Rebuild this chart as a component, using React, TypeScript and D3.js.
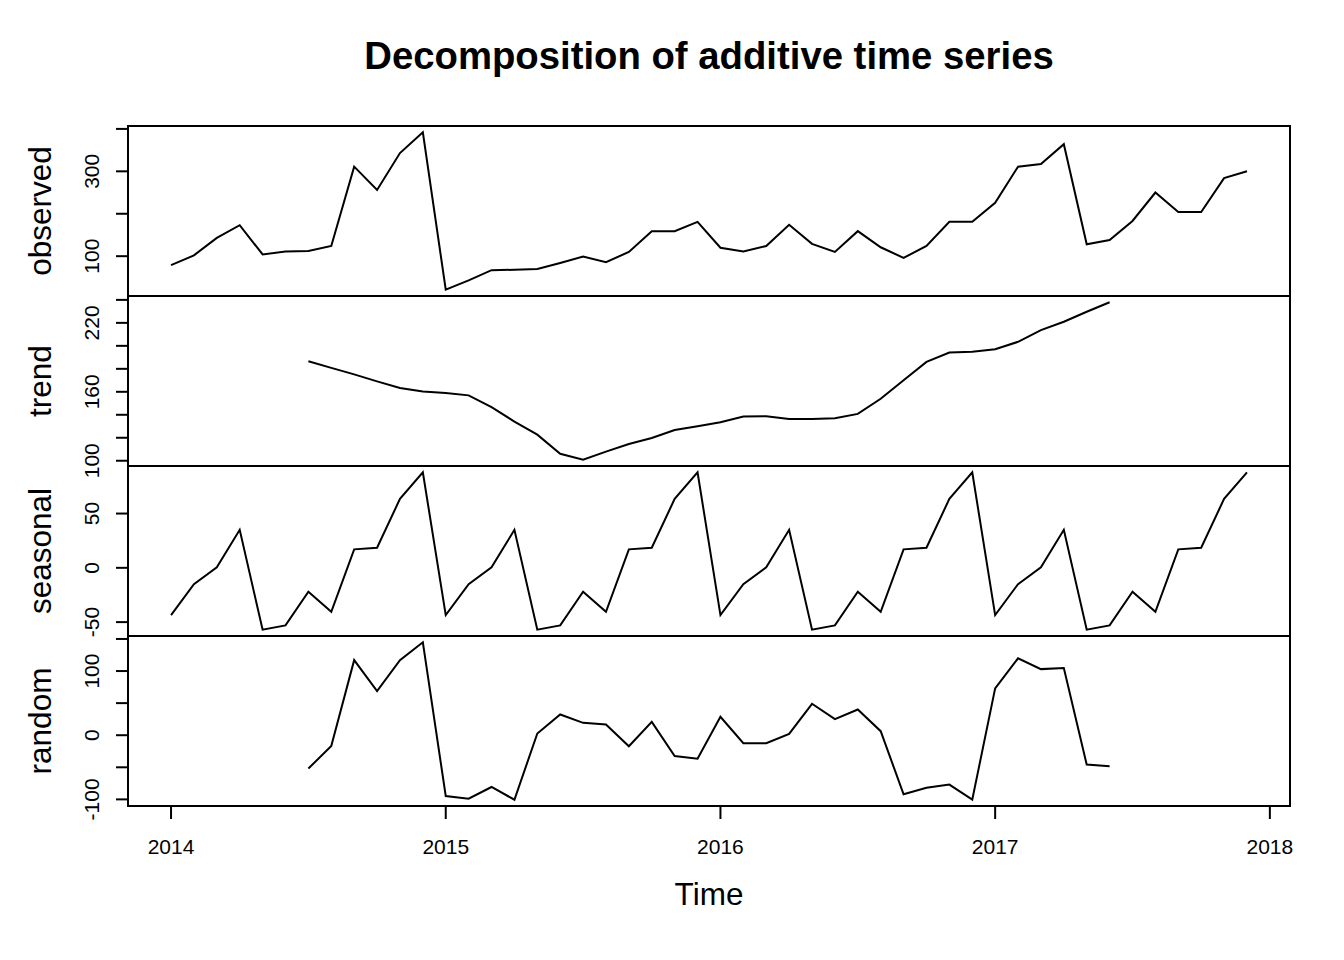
import React from "react";
import * as d3 from "d3";

// ---- data (monthly, Jan 2014 .. Dec 2017) ----
const START_YEAR = 2014;
const FREQ = 12;

const observed = [
  79, 102, 143, 173, 104, 111, 112, 124, 311, 256, 343, 392,
  21, 43, 67, 68, 70, 84, 99, 86, 110, 159, 159, 181,
  120, 111, 124, 174, 129, 110, 159, 121, 96, 124, 181, 181,
  226, 311, 317, 364, 128, 138, 183, 250, 204, 204, 284, 300,
];

// trend and random are defined from Jul 2014 (index 6) to Jun 2017 (index 41)
const TREND_OFFSET = 6;
const trend = [
  186.6, 180.8, 175.2, 169.1, 163.3, 160.3, 158.9, 156.9, 146.6, 134.1, 122.7, 106.1,
  100.9, 107.9, 114.6, 119.8, 126.8, 130.0, 133.5, 138.5, 138.8, 136.4, 136.4, 137.0,
  140.8, 153.9, 170.0, 186.0, 194.2, 194.8, 197.0, 203.5, 213.7, 221.0, 229.7, 237.9,
];

const seasonalFigure = [-43.5, -15, 0.5, 35, -57, -53, -22, -40.5, 17, 18.5, 63.5, 88];

const random = [
  -52, -16.7, 117, 68.8, 117, 144.8, -94.8, -99, -80.7, -100.5, 2.6, 32.3,
  19.3, 16.7, -17.2, 20.8, -32.3, -36.5, 28.6, -12.5, -12.5, 2, 49, 25,
  40, 6.3, -92, -81.8, -77, -100.5, 73, 119.8, 103, 104.7, -45.8, -48.4,
];

const xTicks = [2014, 2015, 2016, 2017, 2018];

const panelNames = ["observed", "trend", "seasonal", "random"];
const panelTicks = [
  [100, 200, 300, 400],
  [100, 120, 140, 160, 180, 200, 220, 240],
  [-50, 0, 50],
  [-100, -50, 0, 50, 100, 150],
];
const panelTickLabels = [
  [100, 300],
  [100, 160, 220],
  [-50, 0, 50],
  [-100, 0, 100],
];

const TITLE = "Decomposition of additive time series";
const X_LABEL = "Time";

// ---- layout ----
const W = 1344;
const H = 960;
const LEFT = 128;
const RIGHT = 1290;
const TOP = 126;
const PANEL_H = 170;
const FONT = "'Liberation Sans', Arial, Helvetica, sans-serif";

type Pt = { t: number; v: number };

function series(values: number[], offset: number): Pt[] {
  return values.map((v, i) => ({ t: START_YEAR + (i + offset) / FREQ, v }));
}

const seasonal = observed.map((_, i) => seasonalFigure[i % FREQ]);

const panelsData: Pt[][] = [
  series(observed, 0),
  series(trend, TREND_OFFSET),
  series(seasonal, 0),
  series(random, TREND_OFFSET),
];

function padExtent(ext: [number, number]): [number, number] {
  const d = (ext[1] - ext[0]) * 0.04;
  return [ext[0] - d, ext[1] + d];
}

export default function App() {
  const tAll = observed.map((_, i) => START_YEAR + i / FREQ);
  const x = d3
    .scaleLinear()
    .domain(padExtent(d3.extent(tAll) as [number, number]))
    .range([LEFT, RIGHT]);

  const line = (y: d3.ScaleLinear<number, number>) =>
    d3
      .line<Pt>()
      .x((d) => x(d.t))
      .y((d) => y(d.v));

  const bottom = TOP + PANEL_H * 4;

  return (
    <svg
      width={W}
      height={H}
      style={{ position: "absolute", left: 0, top: 0, background: "#fff" }}
      fontFamily={FONT}
    >
      <rect x={0} y={0} width={W} height={H} fill="#fff" />
      <text
        x={(LEFT + RIGHT) / 2}
        y={69}
        textAnchor="middle"
        fontWeight="bold"
        fontSize={38.3}
        fill="#000"
      >
        {TITLE}
      </text>

      {panelsData.map((data, p) => {
        const top = TOP + p * PANEL_H;
        const y = d3
          .scaleLinear()
          .domain(padExtent(d3.extent(data, (d) => d.v) as [number, number]))
          .range([top + PANEL_H, top]);
        const cy = top + PANEL_H / 2;
        return (
          <g key={p}>
            <path
              d={line(y)(data) || ""}
              fill="none"
              stroke="#000"
              strokeWidth={2}
              strokeLinejoin="miter"
            />
            {panelTicks[p].map((t) => (
              <line
                key={t}
                x1={LEFT - 12}
                x2={LEFT}
                y1={y(t)}
                y2={y(t)}
                stroke="#000"
                strokeWidth={2}
              />
            ))}
            {panelTickLabels[p].map((t) => (
              <text
                key={t}
                transform={`translate(98.5,${y(t)}) rotate(-90)`}
                textAnchor="middle"
                fontSize={21}
                fill="#000"
              >
                {String(t)}
              </text>
            ))}
            <text
              transform={`translate(50.5,${cy}) rotate(-90)`}
              textAnchor="middle"
              fontSize={31.5}
              fill="#000"
            >
              {panelNames[p]}
            </text>
            <rect
              x={LEFT}
              y={top}
              width={RIGHT - LEFT}
              height={PANEL_H}
              fill="none"
              stroke="#000"
              strokeWidth={2}
            />
          </g>
        );
      })}

      {xTicks.map((t) => (
        <g key={t}>
          <line
            x1={x(t)}
            x2={x(t)}
            y1={bottom}
            y2={bottom + 13}
            stroke="#000"
            strokeWidth={2}
          />
          <text
            x={x(t)}
            y={854}
            textAnchor="middle"
            fontSize={21}
            fill="#000"
          >
            {String(t)}
          </text>
        </g>
      ))}

      <text
        x={(LEFT + RIGHT) / 2}
        y={905}
        textAnchor="middle"
        fontSize={31.5}
        fill="#000"
      >
        {X_LABEL}
      </text>
    </svg>
  );
}
